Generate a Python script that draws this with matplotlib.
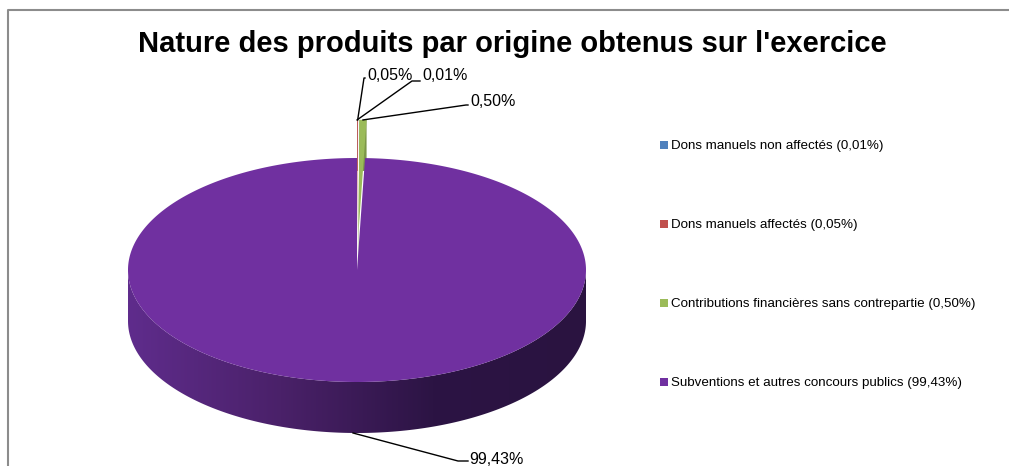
import numpy as np
import matplotlib
matplotlib.use("Agg")
import matplotlib.pyplot as plt
from matplotlib.patches import Polygon

# ---------------- data ----------------
categories = [
    "Dons manuels non affectés",
    "Dons manuels affectés",
    "Contributions financières sans contrepartie",
    "Subventions et autres concours publics",
]
values = [0.01, 0.05, 0.50, 99.43]
colors = ["#4F81BD", "#C0504D", "#9BBB59", "#7030A0"]
explode = [0.34, 0.34, 0.34, 0.0]
title = "Nature des produits par origine obtenus sur l'exercice"

def fmt(v):
    return f"{v:.2f}".replace(".", ",") + "%"

# ---------------- layout ----------------
W, H = 1009, 466
fig = plt.figure(figsize=(W / 100, H / 100), dpi=100)
ax = fig.add_axes([0, 0, 1, 1])
ax.set_xlim(0, W)
ax.set_ylim(H, 0)
ax.axis("off")

FONT = "Liberation Sans"
cx, cy, rx, ry, depth = 357, 270, 229, 112, 51

def pt(theta_deg, s=0.0, mid=None, dz=0.0):
    t = np.radians(theta_deg)
    x = cx + rx * np.cos(t)
    y = cy - ry * np.sin(t) + dz
    if mid is not None and s:
        m = np.radians(mid)
        x = x + s * rx * np.cos(m)
        y = y - s * ry * np.sin(m)
    return x, y

def wedge_poly(t1, t2, s, mid, dz=0.0, n=400):
    th = np.linspace(t1, t2, n)
    xs, ys = pt(th, s, mid, dz)
    m = np.radians(mid)
    ccx = cx + s * rx * np.cos(m)
    ccy = cy - s * ry * np.sin(m) + dz
    return np.column_stack([np.concatenate([[ccx], xs]), np.concatenate([[ccy], ys])])

total = sum(values)
angles = []
start = 90.0
for v in values:
    sweep = v / total * 360.0
    angles.append((start, start - sweep))
    start -= sweep

def shade(c, f):
    r, g, b = matplotlib.colors.to_rgb(c)
    return (r * f, g * f, b * f)

# small exploded slices (back), draw walls then tops
for i in range(3):
    t1, t2 = angles[i]
    mid = (t1 + t2) / 2
    top = wedge_poly(t1, t2, explode[i], mid)
    bot = wedge_poly(t1, t2, explode[i], mid, dz=depth)
    body = np.vstack([top, bot[::-1]])
    ax.add_patch(Polygon(body, closed=True, fc=shade(colors[i], 0.8), ec="none", zorder=2))
    ax.add_patch(Polygon(top, closed=True, fc=colors[i], ec="none", zorder=3))

# purple side wall with gradient
t1, t2 = angles[3]
th = np.linspace(180, 360, 400)
xs, ys = pt(th)
side = np.column_stack([np.concatenate([xs, xs[::-1]]), np.concatenate([ys, ys[::-1] + depth])])
side_patch = Polygon(side, closed=True, fc="none", ec="none", zorder=4)
ax.add_patch(side_patch)
grad = np.linspace(0, 1, 256)[None, :]
cmap = matplotlib.colors.LinearSegmentedColormap.from_list(
    "side", ["#5f2c8c", "#4a2169", "#2c1444", "#2a1340"])
im = ax.imshow(grad, cmap=cmap, extent=[cx - rx, cx + rx, cy + ry + depth, cy - ry * 0.2],
               aspect="auto", zorder=4, interpolation="bilinear")
im.set_clip_path(side_patch)
ax.set_xlim(0, W)
ax.set_ylim(H, 0)

# purple top face
top = wedge_poly(t1, t2, 0, (t1 + t2) / 2)
ax.add_patch(Polygon(top, closed=True, fc=colors[3], ec="none", zorder=5))

# ---------------- data labels ----------------
lab_fs = 11.5
label_pos = [(422, 76), (367, 75), (470, 101)]
line_end = [(412, 81), (364, 78), (466, 105)]
for i in range(3):
    a1, a2 = angles[i]
    mid = (a1 + a2) / 2
    sx, sy = pt(mid, explode[i], mid)
    ex, ey = line_end[i]
    lx, ly = label_pos[i]
    ax.plot([sx, ex, lx - 2], [sy, ey, ey], color="black", lw=1.0, zorder=6)
    ax.text(lx, ly, fmt(values[i]), fontsize=lab_fs, family=FONT, va="center", ha="left", zorder=7)

mid = -90.0
sx, sy = pt(mid, 0, None, dz=depth)
ax.plot([sx - 4, 458, 468], [sy, 461, 461], color="black", lw=1.0, zorder=6)
ax.text(469, 460, fmt(values[3]), fontsize=lab_fs, family=FONT, va="center", ha="left", zorder=7)

# ---------------- legend ----------------
leg_y = [145, 224, 303, 382]
for cat, v, c, y in zip(categories, values, colors, leg_y):
    ax.scatter([664], [y], marker="s", s=30, color=c, zorder=7, linewidths=0)
    ax.text(671, y + 1, f"{cat} ({fmt(v)[:-1]}%)", fontsize=9.6, family=FONT,
            va="center", ha="left", zorder=7)

# ---------------- title ----------------
ax.text(512, 44, title, fontsize=21, family=FONT, weight="bold", ha="center", va="center")

# ---------------- border ----------------
ax.plot([8, 8, W], [H, 10, 10], color="#8c8c8c", lw=1.5, zorder=1, solid_capstyle="butt")

fig.savefig("out.png", dpi=100)
